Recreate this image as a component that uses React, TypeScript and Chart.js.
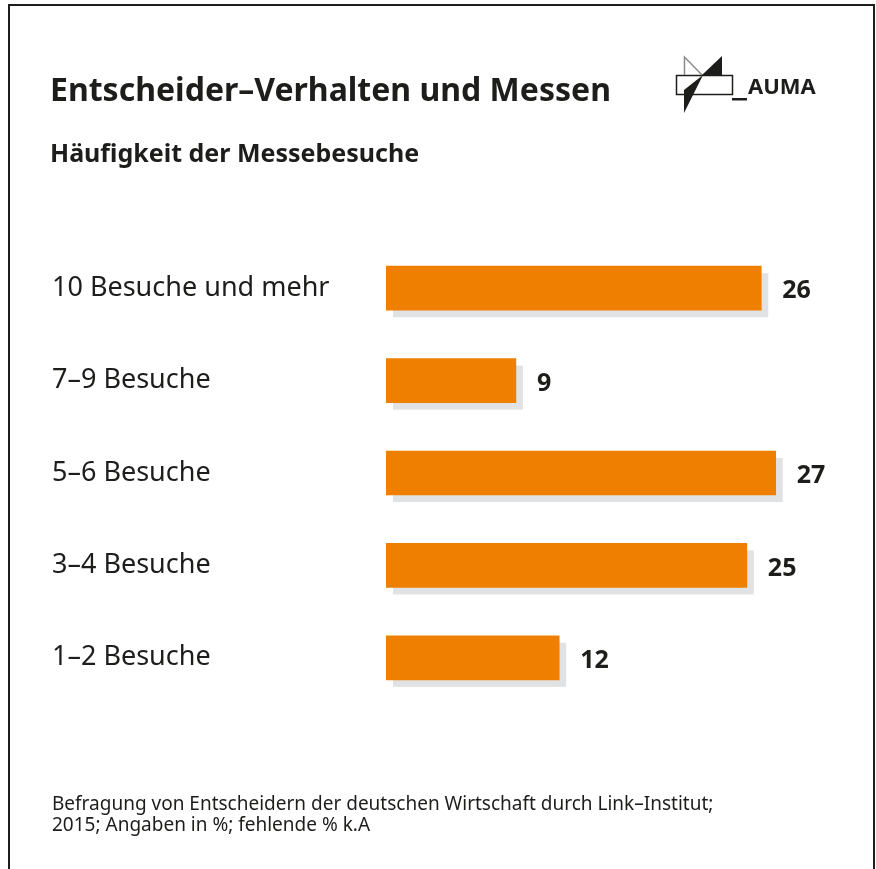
import React, { useEffect, useRef } from "react";
import { Chart, registerables } from "chart.js";

Chart.register(...registerables);

const categories = ["10 Besuche und mehr", "7–9 Besuche", "5–6 Besuche", "3–4 Besuche", "1–2 Besuche"];
const values = [26, 9, 27, 25, 12];
const titleText = "Entscheider–Verhalten und Messen";
const subtitleText = "Häufigkeit der Messebesuche";
const footnoteLines = [
  "Befragung von Entscheidern der deutschen Wirtschaft durch Link–Institut;",
  "2015; Angaben in %; fehlende % k.A",
];
const logoText = "AUMA";

const FONT = "'Noto Sans', sans-serif";
const ORANGE = "#EE7F00";
const SHADOW = "#E1E2E4";
const TEXT = "#1d1d1b";

const decorPlugin = {
  id: "decor",
  beforeDraw(chart: any) {
    const ctx = chart.ctx;
    ctx.save();
    ctx.fillStyle = "#ffffff";
    ctx.fillRect(0, 0, chart.width, chart.height);
    ctx.strokeStyle = "#1d1d1b";
    ctx.lineWidth = 2;
    ctx.beginPath();
    ctx.moveTo(9, chart.height + 2);
    ctx.lineTo(9, 5);
    ctx.lineTo(874, 5);
    ctx.lineTo(874, chart.height + 2);
    ctx.stroke();
    ctx.restore();
  },
  afterDraw(chart: any) {
    const ctx = chart.ctx;
    ctx.save();
    ctx.fillStyle = TEXT;
    ctx.textBaseline = "alphabetic";
    ctx.textAlign = "left";
    ctx.font = `bold 32px ${FONT}`;
    ctx.fillText(titleText, 50, 101);
    ctx.font = `bold 25px ${FONT}`;
    ctx.fillText(subtitleText, 50, 162);
    ctx.font = `19px ${FONT}`;
    ctx.fillText(footnoteLines[0], 52, 810);
    ctx.fillText(footnoteLines[1], 52, 831);

    // logo
    ctx.strokeStyle = "#1d1d1b";
    ctx.lineWidth = 1.5;
    ctx.strokeRect(676.5, 75.5, 56, 19);
    ctx.strokeStyle = "#8a8a8a";
    ctx.beginPath();
    ctx.moveTo(684.5, 75);
    ctx.lineTo(684.5, 57);
    ctx.lineTo(702, 75);
    ctx.stroke();
    ctx.fillStyle = "#1d1d1b";
    ctx.beginPath();
    ctx.moveTo(702, 75);
    ctx.lineTo(722, 56);
    ctx.lineTo(722, 75);
    ctx.closePath();
    ctx.fill();
    ctx.beginPath();
    ctx.moveTo(703, 75);
    ctx.lineTo(684, 90);
    ctx.lineTo(684, 113);
    ctx.closePath();
    ctx.fill();
    ctx.fillRect(732, 98, 15, 2.5);
    ctx.font = `bold 22px ${FONT}`;
    ctx.fillText(logoText, 748, 94);
    ctx.restore();
  },
};

const shadowPlugin = {
  id: "barShadow",
  beforeDatasetsDraw(chart: any) {
    const ctx = chart.ctx;
    const meta = chart.getDatasetMeta(0);
    ctx.save();
    ctx.fillStyle = SHADOW;
    meta.data.forEach((bar: any) => {
      const { x, y, base, height } = bar.getProps(["x", "y", "base", "height"], true);
      ctx.fillRect(base + 7, y - height / 2 + 7, x - base, height);
    });
    ctx.restore();
  },
  afterDatasetsDraw(chart: any) {
    const ctx = chart.ctx;
    const meta = chart.getDatasetMeta(0);
    ctx.save();
    ctx.fillStyle = TEXT;
    ctx.font = `bold 25px ${FONT}`;
    ctx.textAlign = "left";
    ctx.textBaseline = "middle";
    meta.data.forEach((bar: any, i: number) => {
      const { x, y } = bar.getProps(["x", "y"], true);
      ctx.fillText(String(values[i]), x + 21, y + 3);
    });
    ctx.restore();
  },
};

export default function App() {
  const ref = useRef<HTMLCanvasElement>(null);
  useEffect(() => {
    if (!ref.current) return;
    const chart = new Chart(ref.current, {
      type: "bar",
      data: {
        labels: categories,
        datasets: [
          {
            data: values,
            backgroundColor: ORANGE,
            borderWidth: 0,
            barThickness: 44,
          },
        ],
      },
      options: {
        indexAxis: "y",
        responsive: false,
        animation: false,
        events: [],
        layout: { padding: { left: 52, right: 57, top: 242, bottom: 165 } },
        plugins: {
          legend: { display: false },
          tooltip: { enabled: false },
          title: { display: false },
        },
        scales: {
          x: { display: false, min: 0, max: 30 },
          y: {
            grid: { display: false },
            border: { display: false },
            afterFit: (scale: any) => {
              scale.width = 334;
            },
            ticks: {
              crossAlign: "far",
              padding: 0,
              color: TEXT,
              font: { family: FONT, size: 27, weight: "normal" },
            },
          },
        },
      },
      plugins: [decorPlugin, shadowPlugin],
    } as any);
    return () => chart.destroy();
  }, []);
  return (
    <canvas
      ref={ref}
      width={876}
      height={869}
      style={{ position: "absolute", left: 0, top: 0, display: "block" }}
    />
  );
}
